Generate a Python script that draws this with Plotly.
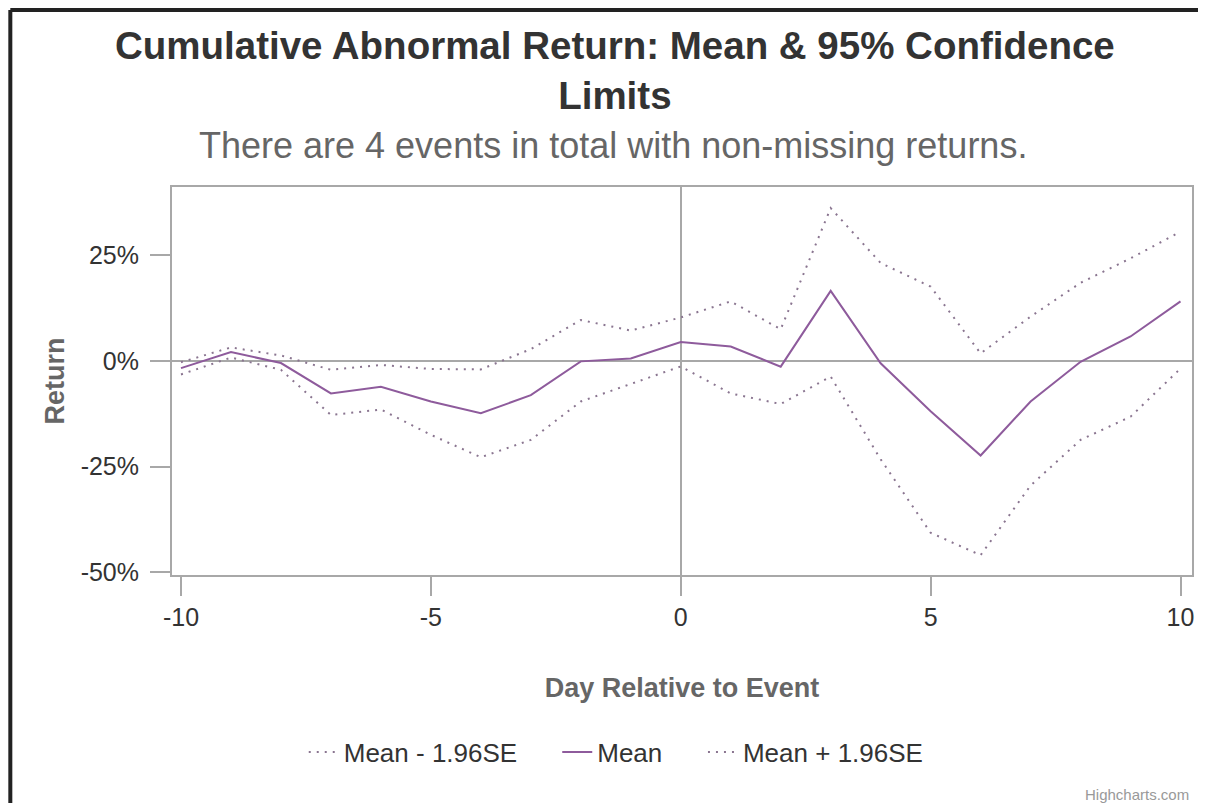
import plotly.graph_objects as go

days = list(range(-10, 11))
mean = [-1.7, 2.1, -0.5, -7.7, -6.1, -9.6, -12.4, -8.1, -0.1, 0.6, 4.5, 3.4, -1.35, 16.6, -0.55, -11.9, -22.4, -9.6, -0.2, 5.8, 14.1]
upper = [-0.3, 3.2, 1.3, -2.1, -0.95, -1.9, -2.0, 2.8, 9.7, 7.2, 10.3, 14.1, 7.5, 36.2, 23.2, 17.6, 1.8, 10.5, 18.5, 24.3, 30.6]
lower = [-3.2, 0.8, -2.1, -12.8, -11.5, -17.5, -22.8, -18.7, -9.6, -5.5, -1.3, -7.7, -10.2, -3.7, -23.3, -40.7, -46.0, -29.5, -18.7, -13.2, -1.8]
y_ticks = [-50, -25, 0, 25]
y_tick_text = ["-50%", "-25%", "0%", "25%"]
x_ticks = [-10, -5, 0, 5, 10]
x_tick_text = ["-10", "-5", "0", "5", "10"]

FONT = "Liberation Sans, Arial, sans-serif"
AXC = "#a8a8a8"
MEAN_C = "#8e5b9c"
DOT_C = "#8a7590"

W, H = 1195, 795
L, R, T = 164, 9, 179
B = H - 567
pw = W - L - R
ph = H - T - B

def px(X):
    return (X - L) / pw

def py(Y):
    return (H - B - Y) / ph

fig = go.Figure()
fig.add_trace(go.Scatter(x=days, y=lower, mode="lines", name="Mean - 1.96SE", legend="legend",
                         line=dict(color=DOT_C, width=2, dash="2px,6px")))
fig.add_trace(go.Scatter(x=days, y=mean, mode="lines", name="Mean", legend="legend2",
                         line=dict(color=MEAN_C, width=2)))
fig.add_trace(go.Scatter(x=days, y=upper, mode="lines", name="Mean + 1.96SE", legend="legend3",
                         line=dict(color=DOT_C, width=2, dash="2px,6px")))

def leg(xs):
    return dict(orientation="h", x=px(xs - 8), xanchor="left", y=py(744), yanchor="middle",
                font=dict(size=26, color="#333333"), itemwidth=30,
                bgcolor="rgba(0,0,0,0)")

fig.update_layout(
    width=W, height=H,
    margin=dict(l=L, r=R, t=T, b=B, pad=0),
    paper_bgcolor="white", plot_bgcolor="white",
    font=dict(family=FONT, color="#333333"),
    showlegend=True,
    legend=leg(304), legend2=leg(558), legend3=leg(704),
    xaxis=dict(range=[-10.18, 10.23], tickvals=x_ticks, ticktext=x_tick_text, showgrid=False,
               zeroline=True, zerolinecolor=AXC, zerolinewidth=2,
               showline=True, linecolor=AXC, linewidth=2, mirror=True,
               ticks="outside", ticklen=19, tickwidth=2, tickcolor=AXC,
               tickfont=dict(size=25, color="#333333"),
               title=dict(text="<b>Day Relative to Event</b>", font=dict(size=27, color="#666666"), standoff=48)),
    yaxis=dict(range=[-50.7, 41.2], tickvals=y_ticks, ticktext=y_tick_text, showgrid=False,
               zeroline=True, zerolinecolor=AXC, zerolinewidth=2,
               showline=True, linecolor=AXC, linewidth=2, mirror=True,
               ticks="outside", ticklen=20, tickwidth=2, tickcolor=AXC,
               tickfont=dict(size=25, color="#333333"), ticklabelstandoff=6,
               title=dict(text="<b>Return</b>", font=dict(size=27, color="#666666"), standoff=8)),
)

fig.add_annotation(text="<b>Cumulative Abnormal Return: Mean & 95% Confidence<br>Limits</b>",
                   xref="paper", yref="paper", x=px(608), y=py(63), xanchor="center", yanchor="middle",
                   showarrow=False, font=dict(size=38.5, color="#333333", family=FONT))
fig.add_annotation(text="There are 4 events in total with non-missing returns.",
                   xref="paper", yref="paper", x=px(606), y=py(138), xanchor="center", yanchor="middle",
                   showarrow=False, font=dict(size=36, color="#666666", family=FONT))
fig.add_annotation(text="Highcharts.com", xref="paper", yref="paper", x=px(1185), y=py(786),
                   xanchor="right", yanchor="middle", showarrow=False,
                   font=dict(size=15, color="#999999", family=FONT))

# container border (top and left edges visible), kept inside the figure
bx, by = px(2), py(2)
fig.add_shape(type="line", xref="paper", yref="paper", x0=bx, x1=bx, y0=by, y1=py(H),
              line=dict(color="#222222", width=4), layer="above")
fig.add_shape(type="line", xref="paper", yref="paper", x0=bx, x1=px(W - 3), y0=by, y1=by,
              line=dict(color="#222222", width=4), layer="above")

fig.write_html("out.html")
